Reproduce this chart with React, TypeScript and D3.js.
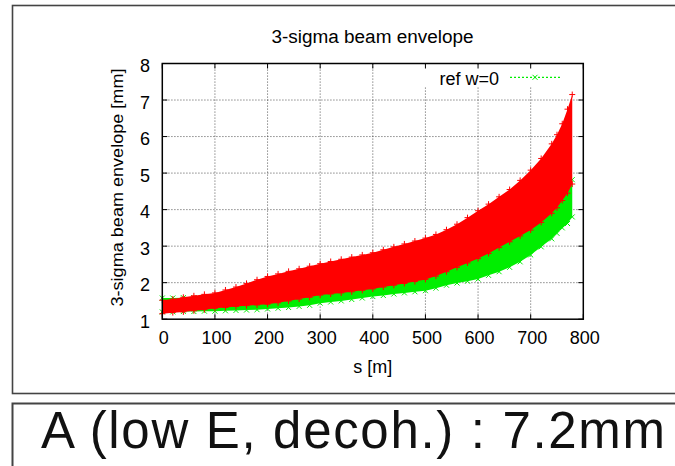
import React from "react";
import * as d3 from "d3";

const sPos = [0, 20, 40, 60, 80, 100, 120, 140, 160, 180, 200, 220, 240, 260, 280, 300, 320, 340, 360, 380, 400, 420, 440, 460, 480, 500, 520, 540, 560, 580, 600, 620, 640, 660, 680, 700, 720, 740, 750, 760, 770, 779];
const redUpper = [1.52, 1.55, 1.6, 1.64, 1.68, 1.72, 1.8, 1.88, 1.98, 2.08, 2.17, 2.24, 2.31, 2.38, 2.45, 2.52, 2.58, 2.64, 2.7, 2.76, 2.82, 2.9, 2.98, 3.06, 3.14, 3.22, 3.32, 3.45, 3.6, 3.78, 3.97, 4.15, 4.35, 4.55, 4.8, 5.08, 5.4, 5.8, 6.05, 6.35, 6.75, 7.15];
const redLower = [1.15, 1.18, 1.2, 1.23, 1.26, 1.3, 1.32, 1.35, 1.37, 1.39, 1.41, 1.45, 1.5, 1.55, 1.6, 1.66, 1.69, 1.72, 1.75, 1.79, 1.83, 1.88, 1.93, 1.98, 2.03, 2.09, 2.18, 2.3, 2.42, 2.54, 2.66, 2.8, 2.96, 3.12, 3.28, 3.44, 3.65, 3.9, 4.05, 4.25, 4.45, 4.7];
const greenUpper = [1.58, 1.58, 1.59, 1.59, 1.6, 1.6, 1.6, 1.6, 1.6, 1.6, 1.6, 1.62, 1.64, 1.66, 1.68, 1.72, 1.75, 1.78, 1.81, 1.85, 1.89, 1.94, 1.99, 2.03, 2.07, 2.12, 2.27, 2.42, 2.52, 2.62, 2.72, 2.87, 3.02, 3.18, 3.34, 3.52, 3.72, 3.97, 4.12, 4.32, 4.52, 4.82];
const greenLower = [1.2, 1.2, 1.21, 1.21, 1.22, 1.22, 1.23, 1.24, 1.25, 1.26, 1.28, 1.3, 1.32, 1.35, 1.38, 1.44, 1.47, 1.5, 1.54, 1.58, 1.62, 1.65, 1.69, 1.72, 1.75, 1.78, 1.85, 1.93, 1.99, 2.04, 2.1, 2.2, 2.3, 2.42, 2.57, 2.76, 2.98, 3.2, 3.35, 3.5, 3.62, 3.8];

const xTicks = [0, 100, 200, 300, 400, 500, 600, 700, 800];
const yTicks = [1, 2, 3, 4, 5, 6, 7, 8];
const titleText = "3-sigma beam envelope";
const xLabel = "s [m]";
const yLabel = "3-sigma beam envelope [mm]";
const legendLabel = "ref w=0";
const caption = "A (low E, decoh.) : 7.2mm";

const FONT = "'Liberation Sans', Arial, Helvetica, sans-serif";
const RED = "#ff0000";
const GREEN = "#00ee00";

export default function App() {
  const L = 162.3, R = 583.3, T = 63.5, B = 319.2;
  const x = d3.scaleLinear().domain([0, 800]).range([L, R]);
  const y = d3.scaleLinear().domain([1, 8]).range([B, T]);

  const idx = sPos.map((_, i) => i);
  const redArea = d3.area<number>().x((i) => x(sPos[i])).y0((i) => y(redLower[i])).y1((i) => y(redUpper[i]))(idx) || "";
  const greenArea = d3.area<number>().x((i) => x(sPos[i])).y0((i) => y(greenLower[i])).y1((i) => y(greenUpper[i]))(idx) || "";

  const plus = (cx: number, cy: number, k: string) => (
    <path key={k} d={`M${cx - 3},${cy}H${cx + 3}M${cx},${cy - 3}V${cy + 3}`} stroke={RED} strokeWidth={1} />
  );
  const cross = (cx: number, cy: number, k: string, c = GREEN) => (
    <path key={k} d={`M${cx - 2.5},${cy - 2.5}L${cx + 2.5},${cy + 2.5}M${cx - 2.5},${cy + 2.5}L${cx + 2.5},${cy - 2.5}`} stroke={c} strokeWidth={1} />
  );

  return (
    <svg width={675} height={466} style={{ position: "absolute", left: 0, top: 0, background: "#fff" }} fontFamily={FONT}>
      <rect x={0} y={0} width={675} height={466} fill="#fff" />
      {/* outer frames */}
      <rect x={12.5} y={5.5} width={700} height={388} fill="none" stroke="#444" strokeWidth={1.6} />
      <rect x={12.5} y={403.5} width={700} height={100} fill="none" stroke="#444" strokeWidth={2} />

      {/* title */}
      <text x={372.5} y={42.5} fontSize={18} textAnchor="middle" textLength={202} lengthAdjust="spacingAndGlyphs">{titleText}</text>

      {/* grid */}
      {xTicks.slice(1, -1).map((t) => (
        <line key={"gx" + t} x1={x(t)} x2={x(t)} y1={T} y2={B} stroke="#333" strokeWidth={1} strokeDasharray="1.2,1.8" opacity={0.7} />
      ))}
      {yTicks.slice(1, -1).map((t) => (
        <line key={"gy" + t} x1={L} x2={R} y1={y(t)} y2={y(t)} stroke="#333" strokeWidth={1} strokeDasharray="1.2,1.8" opacity={0.7} />
      ))}

      {/* legend background */}
      <rect x={420} y={65} width={155} height={22} fill="#fff" />

      {/* green series */}
      <path d={greenArea} fill={GREEN} />
      {sPos.map((s, i) => cross(x(s), y(greenUpper[i]), "gu" + i))}
      {sPos.map((s, i) => cross(x(s), y(greenLower[i]), "gl" + i))}

      {/* red series */}
      <path d={redArea} fill={RED} />
      {sPos.map((s, i) => plus(x(s), y(redUpper[i]), "ru" + i))}
      {sPos.map((s, i) => plus(x(s), y(redLower[i]), "rl" + i))}

      {/* ticks */}
      {xTicks.map((t) => (
        <g key={"tx" + t}>
          <line x1={x(t)} x2={x(t)} y1={B} y2={B - 5} stroke="#000" strokeWidth={1} />
          <line x1={x(t)} x2={x(t)} y1={T} y2={T + 5} stroke="#000" strokeWidth={1} />
          <text x={x(t) + 1.5} y={344} fontSize={18} textAnchor="middle">{t}</text>
        </g>
      ))}
      {yTicks.map((t) => (
        <g key={"ty" + t}>
          <line x1={L} x2={L + 5} y1={y(t)} y2={y(t)} stroke="#000" strokeWidth={1} />
          <line x1={R} x2={R - 5} y1={y(t)} y2={y(t)} stroke="#000" strokeWidth={1} />
          <text x={150} y={y(t) + 8.5} fontSize={18} textAnchor="end">{t}</text>
        </g>
      ))}

      {/* border */}
      <rect x={L} y={T} width={R - L} height={B - T} fill="none" stroke="#000" strokeWidth={1.5} />

      {/* legend */}
      <text x={499} y={85} fontSize={18} textAnchor="end">{legendLabel}</text>
      <line x1={510} x2={561} y1={77.3} y2={77.3} stroke={GREEN} strokeWidth={1.2} strokeDasharray="2,2" />
      {cross(535, 77.3, "lg")}

      {/* axis labels */}
      <text x={372.7} y={373} fontSize={18} textAnchor="middle">{xLabel}</text>
      <text transform="translate(123,187.5) rotate(-90)" fontSize={17} textAnchor="middle" textLength={238} lengthAdjust="spacingAndGlyphs">{yLabel}</text>

      {/* caption */}
      <text x={41} y={448} fontSize={51} textLength={624} lengthAdjust="spacing" fill="#111">{caption}</text>
    </svg>
  );
}
